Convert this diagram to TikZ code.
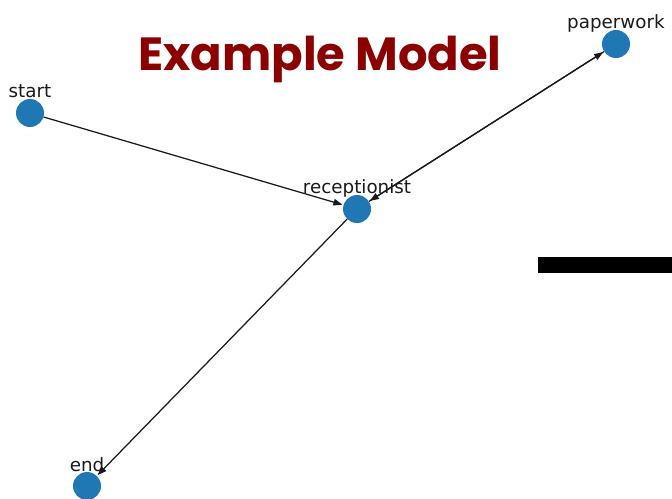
\documentclass[tikz,border=0pt]{standalone}
\usepackage{fontspec}
\setmainfont{DejaVu Sans}
\newfontfamily\titlefont{Poppins}
\usetikzlibrary{arrows.meta}
\definecolor{nxblue}{HTML}{1F77B4}
\definecolor{titlered}{HTML}{8B0000}
\tikzset{
  vert/.style={circle, fill=nxblue, draw=none, minimum size=28pt, inner sep=0pt},
  vlabel/.style={font=\fontsize{18.3}{18.3}\selectfont, text=black!90, inner sep=0pt, anchor=base},
  edge/.style={draw=black!90, line width=1.25pt, -{Triangle[length=9pt,width=6.5pt]}, shorten >=1pt},
}
\begin{document}
\begin{tikzpicture}[x=1pt,y=-1pt]
\useasboundingbox (0,0) rectangle (672,498);
\clip (0,0) rectangle (672,498);
\node[font=\titlefont\bfseries\fontsize{46.5}{46.5}\selectfont, text=titlered, inner sep=0pt] (title) at (320,59) {Example Model};
\node[vert] (start) at (30,113) {};
\node[vert] (rec) at (357,209) {};
\node[vert] (paper) at (616,44) {};
\node[vert] (end) at (87,486) {};
\node[vlabel] (lstart) at (30,97) {start};
\node[vlabel] (lrec) at (357,193) {receptionist};
\node[vlabel] (lpaper) at (616,28) {paperwork};
\node[vlabel] (lend) at (87,471) {end};
\draw[edge] (start) -- (rec);
\draw[edge] (rec) -- (paper);
\draw[edge] (paper) -- (rec);
\draw[edge] (rec) -- (end);
\fill[black] (538,257) rectangle (672,273);
\end{tikzpicture}
\end{document}
